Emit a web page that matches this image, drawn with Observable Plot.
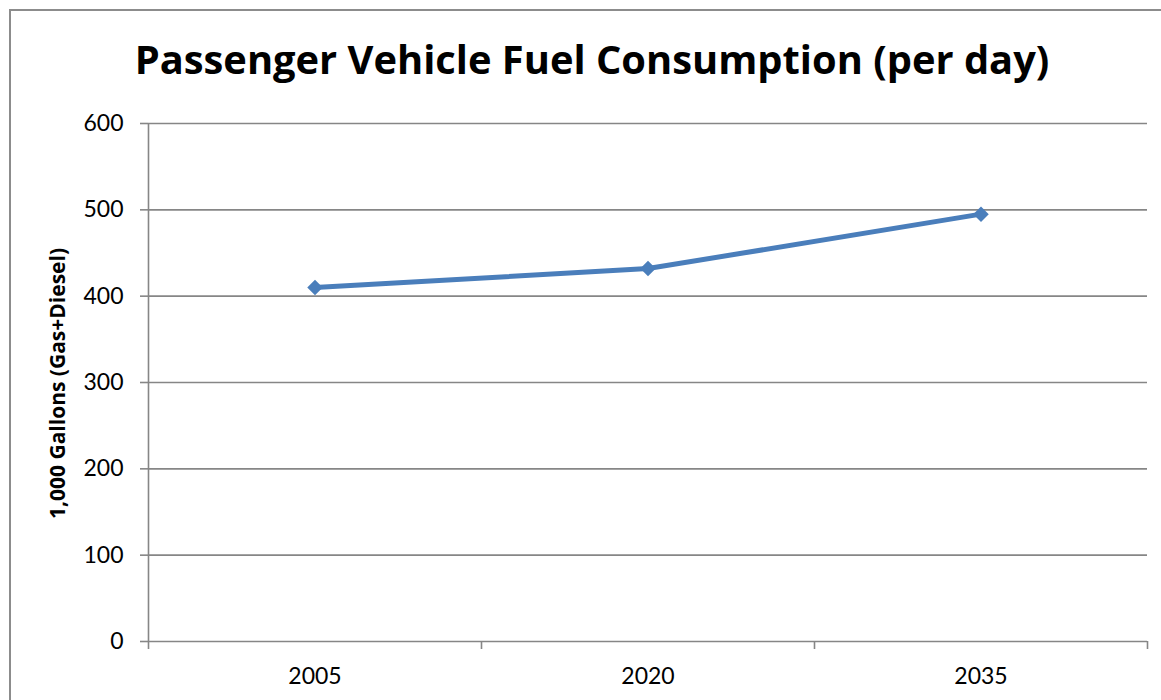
<!DOCTYPE html>
<html>
<head>
<meta charset="utf-8">
<script src="https://cdn.jsdelivr.net/npm/d3@7"></script>
<script src="https://cdn.jsdelivr.net/npm/@observablehq/plot@0.6"></script>
<style>
  html, body { margin: 0; padding: 0; background: #fff; }
  #wrap { position: relative; width: 1161px; height: 700px; overflow: hidden; background: #fff; }
  #frame { position: absolute; left: 9px; top: 9px; width: 1200px; height: 800px; border: 2px solid #8c8c8c; box-sizing: border-box; }
  #title { position: absolute; left: 0; top: 39px; width: 1184px; text-align: center; font-family: "Open Sans", sans-serif; font-weight: bold; font-size: 38px; color: #000; white-space: nowrap; line-height: 1; }
  #title span { display: inline-block; }
  #chart { position: absolute; left: 0; top: 0; }
</style>
</head>
<body>
<div id="wrap">
  <div id="frame"></div>
  <div id="chart"></div>
  <div id="title"><span id="ttext">Passenger Vehicle Fuel Consumption (per day)</span></div>
</div>
<script>
const years = ["2005", "2020", "2035"];
const gallons = [410, 432, 495];
const yTicks = [0, 100, 200, 300, 400, 500, 600];
const yLabel = "1,000 Gallons (Gas+Diesel)";

const data = years.map((y, i) => ({idx: i + 0.5, year: y, v: gallons[i]}));
const bounds = d3.range(years.length + 1);
const gridColor = "#868686";
const lineColor = "#4A7EBB";

const chart = Plot.plot({
  width: 1161,
  height: 700,
  marginLeft: 148,
  marginRight: 14,
  marginTop: 123,
  marginBottom: 59,
  style: {fontFamily: "Lato, sans-serif", fontSize: "23px", color: "#000", background: "transparent"},
  x: {type: "linear", domain: [0, years.length]},
  y: {domain: [0, 600]},
  marks: [
    Plot.gridY(yTicks, {stroke: gridColor, strokeOpacity: 1, strokeWidth: 1.6}),
    Plot.axisY({ticks: yTicks, tickSize: 8, tickPadding: 17, stroke: gridColor, strokeWidth: 1.6, label: null, fontSize: 23}),
    Plot.ruleX([0], {stroke: gridColor, strokeWidth: 1.6}),
    Plot.axisX({ticks: bounds, tickSize: 8, tickFormat: () => "", stroke: gridColor, strokeWidth: 1.6, label: null}),
    Plot.axisX({ticks: data.map(d => d.idx), tickSize: 0, tickPadding: 26, tickFormat: d => years[Math.floor(d)], label: null, fontSize: 23}),
    Plot.text([yLabel], {frameAnchor: "left", textAnchor: "middle", lineAnchor: "middle", rotate: -90, dx: -90, dy: 1, fontFamily: "Open Sans, sans-serif", fontWeight: "bold", fontSize: 21, fill: "#000"}),
    Plot.line(data, {x: "idx", y: "v", stroke: lineColor, strokeWidth: 5}),
    Plot.dot(data, {x: "idx", y: "v", symbol: "diamond2", r: 7, fill: lineColor, stroke: "none"})
  ]
});
document.getElementById("chart").appendChild(chart);

// fit title width to the reference span (~915px)
const t = document.getElementById("ttext");
const w = t.getBoundingClientRect().width;
if (w > 0) {
  const fs = 38 * 915 / w;
  document.getElementById("title").style.fontSize = fs + "px";
}
</script>
</body>
</html>
